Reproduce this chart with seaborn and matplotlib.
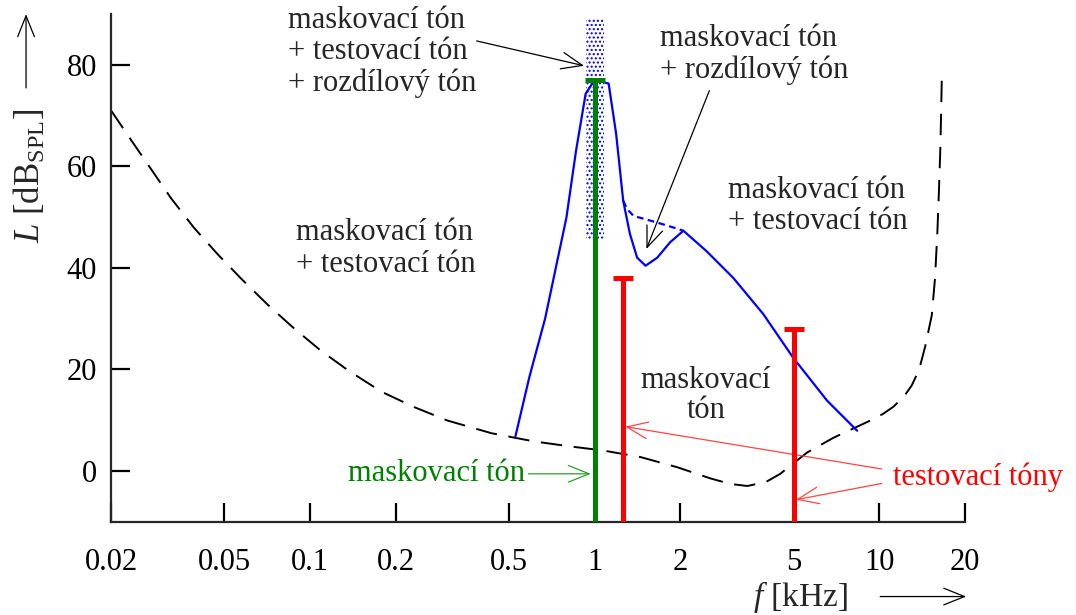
import numpy as np
import pandas as pd
import matplotlib
matplotlib.use("Agg")
import matplotlib.pyplot as plt
import seaborn as sns

# --- data ------------------------------------------------------------------
# absolute threshold of hearing (black dashed)
thr_f = [0.02, 0.0235, 0.0276, 0.0325, 0.0391, 0.0475, 0.0572, 0.0711, 0.0877,
         0.109, 0.136, 0.178, 0.231, 0.304, 0.434, 0.61, 0.82, 1.07, 1.45, 1.95,
         2.55, 3.0, 3.44, 4.0, 4.49, 5.0, 5.58, 6.9, 8.3, 9.3, 10.3, 11.2, 12.2,
         13.0, 13.8, 14.5, 15.3, 15.7, 16.0, 16.2, 16.4, 16.6]
thr_L = [71.0, 65.2, 59.5, 53.7, 47.9, 42.6, 37.9, 32.7, 28.1,
         23.7, 19.8, 15.6, 12.6, 9.9, 7.4, 5.8, 4.8, 4.0, 2.7, 0.7,
         -1.5, -2.6, -3.0, -2.2, -0.6, 1.5, 3.6, 6.5, 8.6, 9.9, 11.2, 12.6, 14.6,
         16.8, 19.9, 24.5, 30.7, 38.0, 47.0, 55.0, 64.0, 78.5]

# masking curve (blue solid)
mask_f = [0.527, 0.59, 0.67, 0.796, 0.86, 0.93, 1.0, 1.12, 1.19, 1.26, 1.33,
          1.41, 1.51, 1.66, 1.84, 2.05, 2.47, 3.07, 3.91, 4.98, 6.56, 8.36]
mask_L = [6.8, 18.5, 30.0, 49.9, 63.0, 74.3, 77.0, 76.3, 66.4, 53.2, 46.7,
          42.0, 40.4, 42.0, 45.0, 47.3, 43.3, 38.0, 30.9, 22.3, 13.8, 7.9]

# masking curve without the difference tone (blue dashed)
diff_f = [1.26, 1.30, 1.37, 1.48, 1.66, 1.90, 2.05]
diff_L = [53.2, 51.6, 50.2, 49.7, 48.9, 47.9, 47.3]

# hatched region around the masker
hatch_f = [0.935, 1.075]
hatch_L = [45.7, 89.3]

# tones
masker_f, masker_L = [1.0], [77.0]
test_f, test_L = [1.26, 5.0], [38.0, 28.0]

xticks = [0.02, 0.05, 0.1, 0.2, 0.5, 1, 2, 5, 10, 20]
xtick_labels = ["0.02", "0.05", "0.1", "0.2", "0.5", "1", "2", "5", "10", "20"]
yticks = [0, 20, 40, 60, 80]

BLUE = "#0000ff"
GREEN = "#008000"
RED = "#ff0000"

# --- style -----------------------------------------------------------------
sns.set_style("ticks")
plt.rcParams["font.family"] = ["Liberation Serif", "DejaVu Serif"]
plt.rcParams["mathtext.fontset"] = "custom"
plt.rcParams["mathtext.rm"] = "Liberation Serif"
plt.rcParams["mathtext.it"] = "Liberation Serif:italic"
plt.rcParams["hatch.linewidth"] = 1.0
FS = 22

fig = plt.figure(figsize=(10.76, 6.15), dpi=100)
ax = fig.add_axes([0.1032, 0.152, 0.7936, 0.8252])
ax.set_xscale("log")
ax.set_xlim(0.02, 20)
ax.set_ylim(-10, 90)

# hatched masker region
ax.fill_between(hatch_f, hatch_L[0], hatch_L[1], facecolor="none",
                edgecolor=BLUE, hatch="....", linewidth=0, zorder=1)

# curves
sns.lineplot(x=thr_f, y=thr_L, ax=ax, color="black", lw=1.4,
             linestyle=(0, (11, 6)), zorder=2)
sns.lineplot(x=mask_f, y=mask_L, ax=ax, color=BLUE, lw=1.6, zorder=3)
sns.lineplot(x=diff_f, y=diff_L, ax=ax, color=BLUE, lw=1.6,
             linestyle=(0, (3, 2)), zorder=3)

# tone lines with caps
ymin = ax.get_ylim()[0]
ax.vlines(masker_f, ymin, masker_L, color=GREEN, lw=3.6, zorder=5)
ax.plot(masker_f, masker_L, marker="_", ms=15, mew=3.6, color=GREEN,
        ls="none", zorder=5)
ax.vlines(test_f, ymin, test_L, color=RED, lw=3.6, zorder=5)
ax.plot(test_f, test_L, marker="_", ms=15, mew=3.6, color=RED,
        ls="none", zorder=5)

# --- text and arrows -------------------------------------------------------
arr = dict(arrowstyle="->,head_length=0.75,head_width=0.3", lw=0.9,
           mutation_scale=20, shrinkA=0, shrinkB=0)

ax.text(0.0836, 82.6, "maskovací tón\n+ testovací tón\n+ rozdílový tón",
        fontsize=FS, ha="left", va="center", linespacing=1.1)
ax.annotate("", xy=(0.918, 79.8), xytext=(0.385, 84.7),
            arrowprops=dict(arr, color="black"))

ax.text(1.70, 82.0, "maskovací tón\n+ rozdílový tón",
        fontsize=FS, ha="left", va="center", linespacing=1.1)
ax.annotate("", xy=(1.52, 43.7), xytext=(2.53, 74.9),
            arrowprops=dict(arr, color="black"))

ax.text(2.93, 52.1, "maskovací tón\n+ testovací tón",
        fontsize=FS, ha="left", va="center", linespacing=1.1)
ax.text(0.089, 43.8, "maskovací tón\n+ testovací tón",
        fontsize=FS, ha="left", va="center", linespacing=1.1)
ax.text(2.46, 14.8, "maskovací\ntón", fontsize=FS, ha="center",
        va="center", multialignment="center", linespacing=1.05)

ax.text(0.568, -0.6, "maskovací tón", fontsize=FS, color=GREEN,
        ha="right", va="center")
ax.annotate("", xy=(0.97, -0.6), xytext=(0.585, -0.6),
            arrowprops=dict(arr, color="#2ca02c"))

ax.text(11.2, -1.2, "testovací tóny", fontsize=FS, color=RED,
        ha="left", va="center", clip_on=False)
ax.annotate("", xy=(1.28, 8.7), xytext=(10.2, 0.35),
            arrowprops=dict(arr, color="#ff4444"))
ax.annotate("", xy=(5.1, -5.7), xytext=(10.2, -2.5),
            arrowprops=dict(arr, color="#ff4444"))

# --- axes ------------------------------------------------------------------
sns.despine(ax=ax)
for side in ["left", "bottom"]:
    ax.spines[side].set_linewidth(1.6)
ax.set_xticks(xticks)
ax.set_xticklabels(xtick_labels)
ax.xaxis.set_minor_locator(matplotlib.ticker.NullLocator())
ax.set_yticks(yticks)
ax.tick_params(axis="both", direction="in", length=13.5, width=1.6,
               labelsize=FS, colors="black")
ax.tick_params(axis="x", pad=19)
ax.tick_params(axis="y", pad=10)

fig.text(0.028, 0.714, r"$L$ [dB$_{\mathrm{SPL}}$]", rotation=90,
         fontsize=25, ha="center", va="center")
fig.text(0.744, 0.0, r"$f$ [kHz]", fontsize=24, ha="center", va="bottom")
ax.annotate("", xy=(0.898, 0.03), xytext=(0.818, 0.03),
            xycoords="figure fraction", textcoords="figure fraction",
            arrowprops=dict(arr, color="black"))
ax.annotate("", xy=(0.0242, 0.977), xytext=(0.0242, 0.857),
            xycoords="figure fraction", textcoords="figure fraction",
            arrowprops=dict(arr, color="black"))

fig.savefig("out.png", dpi=100)
